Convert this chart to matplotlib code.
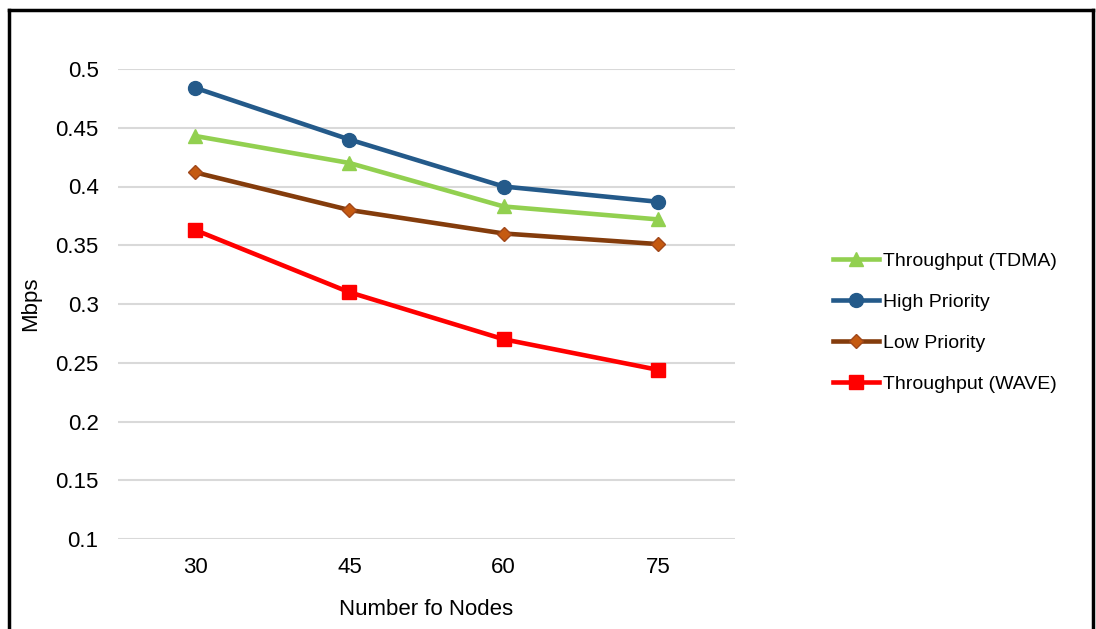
import matplotlib
matplotlib.use("Agg")
import matplotlib.pyplot as plt
from matplotlib.lines import Line2D

plt.rcParams['font.family'] = ['Liberation Sans', 'DejaVu Sans']

nodes = ["30", "45", "60", "75"]
tdma = [0.443, 0.420, 0.383, 0.372]
high_pr = [0.484, 0.440, 0.400, 0.387]
low_pr = [0.412, 0.380, 0.360, 0.351]
wave = [0.363, 0.310, 0.270, 0.244]

yticks = [0.1, 0.15, 0.2, 0.25, 0.3, 0.35, 0.4, 0.45, 0.5]
ytick_labels = ["0.1", "0.15", "0.2", "0.25", "0.3", "0.35", "0.4", "0.45", "0.5"]

fig = plt.figure(figsize=(10.96, 6.29), dpi=100)
ax = fig.add_axes([118/1096, 1-539/629, (735-118)/1096, (539-69)/629])

x = range(len(nodes))
ax.plot(x, tdma, color='#92D050', lw=3.3, marker='^', ms=10, label='Throughput (TDMA)')
ax.plot(x, high_pr, color='#245A8A', lw=3.3, marker='o', ms=10, label='High Priority')
ax.plot(x, low_pr, color='#843C0C', lw=3.3, marker='D', ms=7, mfc='#C55A11', mec='#A0471A', label='Low Priority')
ax.plot(x, wave, color='#FF0000', lw=3.3, marker='s', ms=10, label='Throughput (WAVE)')

ax.set_xlim(-0.5, len(nodes)-0.5)
ax.set_ylim(0.1, 0.5)
ax.set_xticks(list(x))
ax.set_xticklabels(nodes)
ax.set_yticks(yticks)
ax.set_yticklabels(ytick_labels)
ax.tick_params(length=0, labelsize=16)
ax.tick_params(axis='x', pad=13)
ax.tick_params(axis='y', pad=14)
ax.grid(axis='y', color='#D9D9D9', lw=1.5)
ax.set_axisbelow(True)
for s in ax.spines.values():
    s.set_visible(False)

ax.set_xlabel('Number fo Nodes', fontsize=16, labelpad=15)
ax.set_ylabel('Mbps', fontsize=16, labelpad=10)

leg = ax.legend(loc='center left', bbox_to_anchor=(1.13, 0.46), frameon=False,
                fontsize=14, handlelength=2.4, handletextpad=0.2, labelspacing=1.2)

# outer black frame (no bottom edge)
fig.add_artist(Line2D([9/1096, 9/1096], [0, 1-10/629], color='black', lw=2.5))
fig.add_artist(Line2D([9/1096, 1093/1096], [1-10/629, 1-10/629], color='black', lw=2.5))
fig.add_artist(Line2D([1093/1096, 1093/1096], [0, 1-10/629], color='black', lw=2.5))

fig.savefig('out.png', dpi=100)
